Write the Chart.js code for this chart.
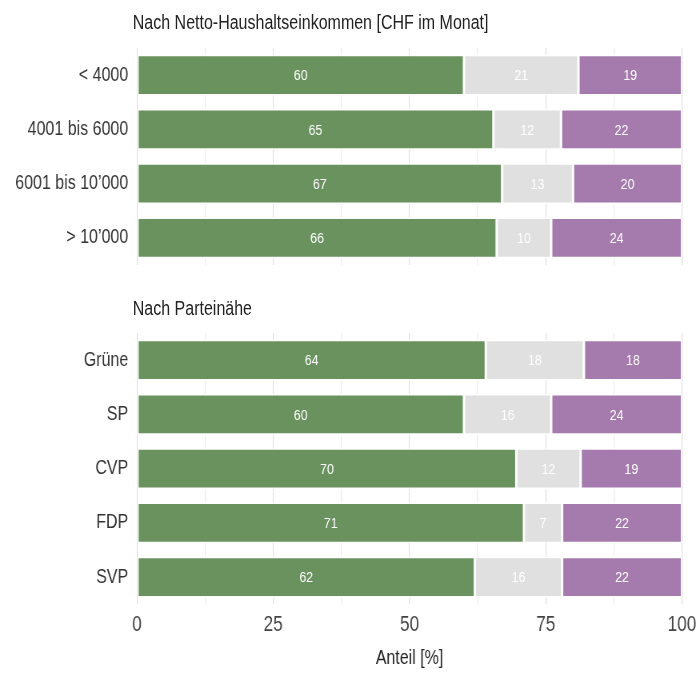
<!DOCTYPE html>
<html>
<head>
<meta charset="utf-8">
<script src="https://cdn.jsdelivr.net/npm/chart.js@4/dist/chart.umd.min.js"></script>
<style>
  html,body{margin:0;padding:0;background:#fff;}
  body{width:700px;height:673px;position:relative;overflow:hidden;}
  #stage{position:absolute;left:0;top:0;width:890px;height:673px;
         transform:scaleX(0.8);transform-origin:0 0;
         font-family:"Liberation Sans",Arial,sans-serif;}
  .wrap{position:absolute;left:0;}
  .ptitle{position:absolute;left:166px;font-size:20px;color:#222;white-space:nowrap;line-height:1;}
</style>
</head>
<body>
<div id="stage">
<div class="ptitle" style="top:12px">Nach Netto-Haushaltseinkommen [CHF im Monat]</div>
<div class="ptitle" style="top:298px">Nach Parteinähe</div>
<div class="wrap" style="top:0;width:875px;height:288px"><canvas id="c1"></canvas></div>
<div class="wrap" style="top:275px;width:882px;height:398px"><canvas id="c2"></canvas></div>
</div>
<script>
// ---- data ----
const incomeCategories = ['< 4000', '4001 bis 6000', '6001 bis 10\u2019000', '> 10\u2019000'];
const incomeGreen  = [60, 65.4, 67, 66];
const incomeGrey   = [21, 12.4, 13, 10];
const incomePurple = [19, 22.2, 20, 24];

const partyCategories = ['Grüne', 'SP', 'CVP', 'FDP', 'SVP'];
const partyGreen  = [64, 60, 69.6, 71, 62];
const partyGrey   = [18, 16, 11.8, 7, 16];
const partyPurple = [18, 24, 18.6, 22, 22];

const xTickValues = [0, 25, 50, 75, 100];
const xAxisTitle = 'Anteil [%]';

// ---- styling ----
const FONT = '"Liberation Sans",Arial,sans-serif';
const GREEN = '#6a925e', GREY = '#e0e0e0', PURPLE = '#a57aad';

const labelPlugin = {
  id: 'segLabels',
  afterDatasetsDraw(chart) {
    const ctx = chart.ctx;
    ctx.save();
    ctx.font = '15.5px ' + FONT;
    ctx.fillStyle = '#ffffff';
    ctx.textAlign = 'center';
    ctx.textBaseline = 'middle';
    chart.data.datasets.forEach((ds, i) => {
      const meta = chart.getDatasetMeta(i);
      meta.data.forEach((bar, j) => {
        const p = bar.getProps(['x', 'base', 'y'], true);
        ctx.fillText(String(Math.round(ds.data[j])), (p.x + p.base) / 2, p.y + 1);
      });
    });
    ctx.restore();
  }
};

function datasets(g, r, p) {
  const common = {borderColor: '#ffffff', borderWidth: 1.5, borderSkipped: false,
                  categoryPercentage: 1.0, barPercentage: 0.75};
  return [
    Object.assign({label: 'g', data: g, backgroundColor: GREEN}, common),
    Object.assign({label: 'r', data: r, backgroundColor: GREY}, common),
    Object.assign({label: 'p', data: p, backgroundColor: PURPLE}, common)
  ];
}

function makeChart(id, cats, ds, showX, padding) {
  return new Chart(document.getElementById(id), {
    type: 'bar',
    data: {labels: cats, datasets: ds},
    plugins: [labelPlugin],
    options: {
      indexAxis: 'y',
      responsive: true,
      maintainAspectRatio: false,
      animation: false,
      events: [],
      layout: {padding: padding},
      plugins: {legend: {display: false}, tooltip: {enabled: false}, title: {display: false}},
      scales: {
        x: {
          stacked: true, min: 0, max: 100,
          afterBuildTicks(scale) {
            const t = [];
            for (let v = 0; v <= 100; v += 12.5) t.push({value: v});
            scale.ticks = t;
          },
          afterFit(scale) { if (!showX) scale.height = 0; },
          border: {display: false},
          grid: {
            drawTicks: false,
            color: ctx => (ctx.tick && xTickValues.includes(ctx.tick.value)) ? '#e0e0e0' : '#ededed',
            lineWidth: 1.25
          },
          ticks: {
            display: showX,
            autoSkip: false,
            maxRotation: 0,
            padding: showX ? 8 : 0,
            color: '#444',
            font: {family: FONT, size: 21.5},
            callback: v => xTickValues.includes(v) ? String(v) : ''
          },
          title: {
            display: showX, text: xAxisTitle, color: '#222',
            font: {family: FONT, size: 20}, padding: {top: 0, bottom: 0}
          }
        },
        y: {
          stacked: true,
          border: {display: false},
          grid: {display: false, drawTicks: false},
          afterFit(scale) { scale.width = 171.25; },
          ticks: {
            padding: 11,
            color: '#333',
            font: {family: FONT, size: 20}
          }
        }
      }
    }
  });
}

makeChart('c1', incomeCategories, datasets(incomeGreen, incomeGrey, incomePurple), false,
  {top: 48, bottom: 23, left: 0, right: 22.5});
makeChart('c2', partyCategories, datasets(partyGreen, partyGrey, partyPurple), true,
  {top: 58, bottom: 3, left: 0, right: 29.5});
</script>
</body>
</html>
